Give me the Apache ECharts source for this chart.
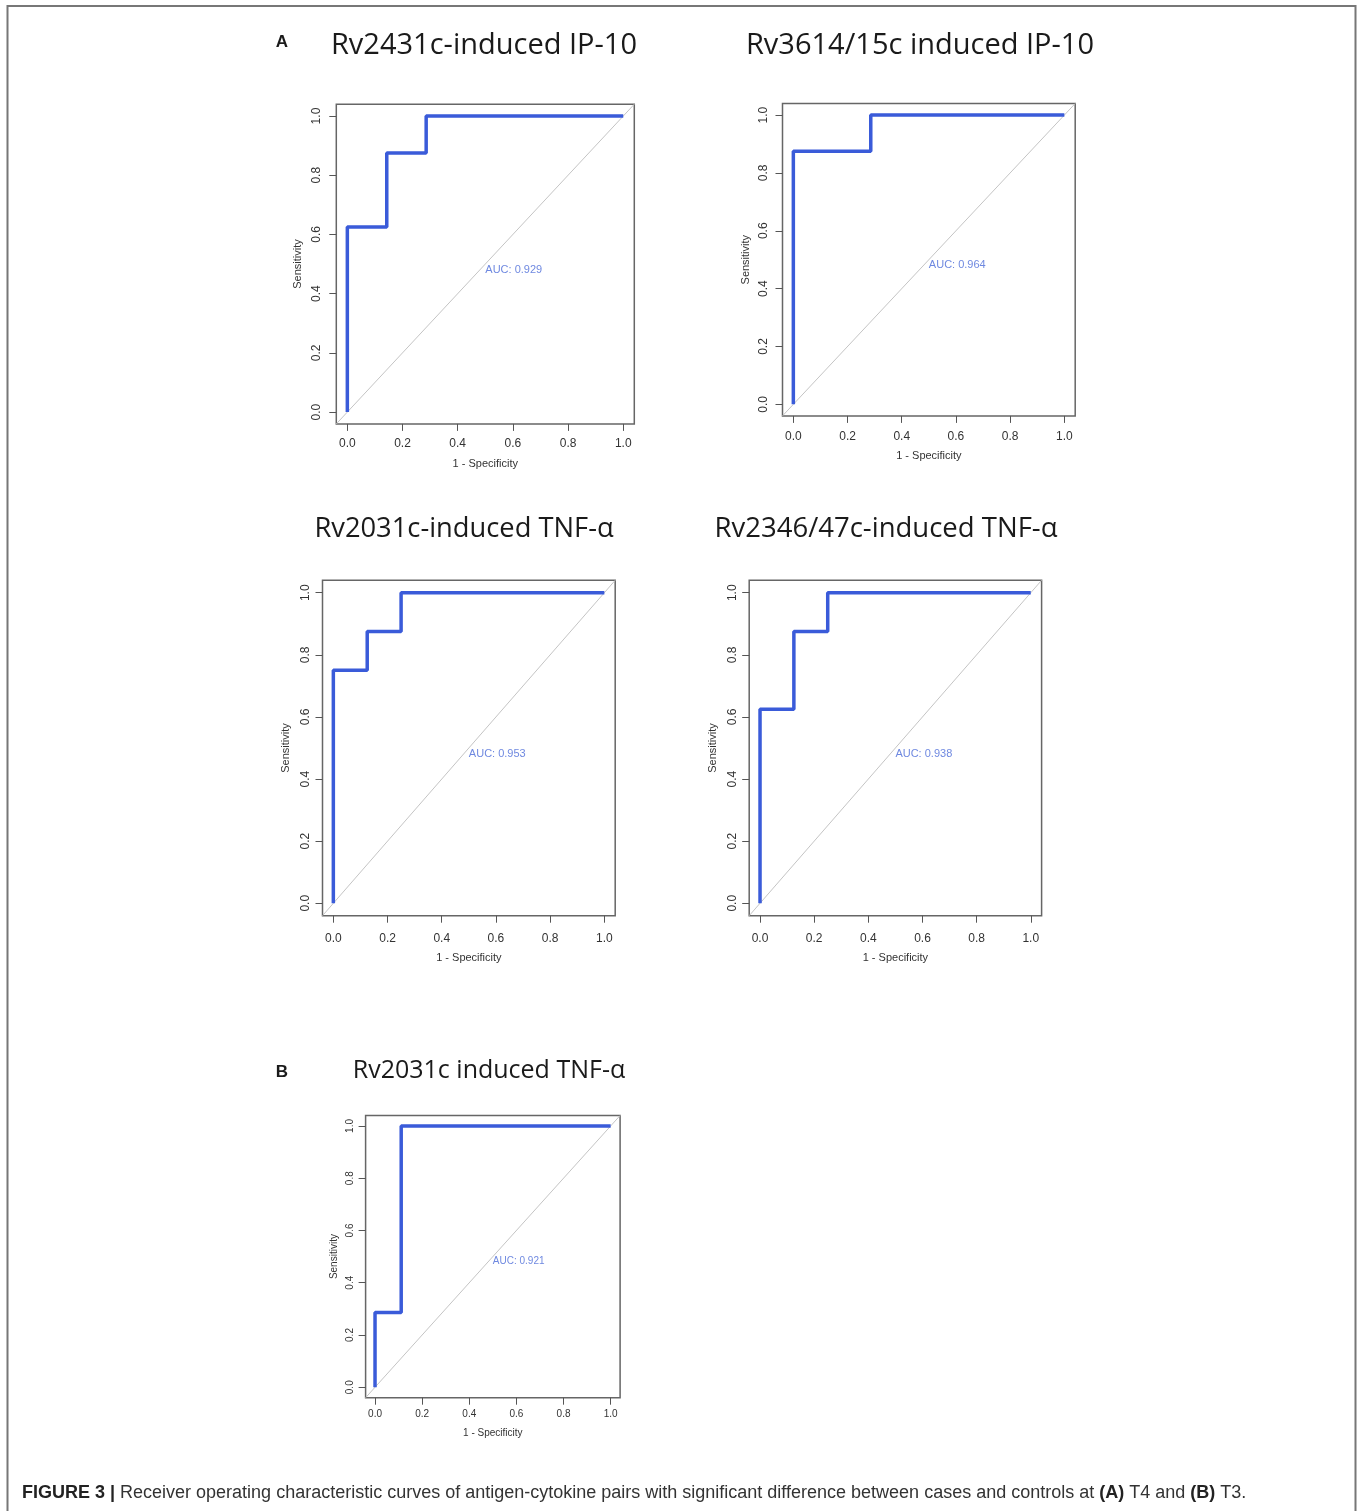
<!DOCTYPE html>
<html>
<head>
<meta charset="utf-8">
<script src="https://cdn.jsdelivr.net/npm/echarts@6/dist/echarts.min.js"></script>
<style>
html,body{margin:0;padding:0;background:#fff;}
#chart{width:1360px;height:1511px;}
</style>
</head>
<body>
<div id="chart"></div>
<script>
// ---- data ----
const panelTitles = ['Rv2431c-induced IP-10', 'Rv3614/15c induced IP-10', 'Rv2031c-induced TNF-\u03b1', 'Rv2346/47c-induced TNF-\u03b1', 'Rv2031c induced TNF-\u03b1'];
const tickValues = [0, 0.2, 0.4, 0.6, 0.8, 1.0];
const tickLabels = ['0.0', '0.2', '0.4', '0.6', '0.8', '1.0'];
const xAxisName = '1 - Specificity';
const yAxisName = 'Sensitivity';

const p1Fpr = [0, 0, 0.1429, 0.1429, 0.2857, 0.2857, 1];
const p1Tpr = [0, 0.625, 0.625, 0.875, 0.875, 1, 1];
const p2Fpr = [0, 0, 0.2857, 0.2857, 1];
const p2Tpr = [0, 0.875, 0.875, 1, 1];
const p3Fpr = [0, 0, 0.125, 0.125, 0.25, 0.25, 1];
const p3Tpr = [0, 0.75, 0.75, 0.875, 0.875, 1, 1];
const p4Fpr = [0, 0, 0.125, 0.125, 0.25, 0.25, 1];
const p4Tpr = [0, 0.625, 0.625, 0.875, 0.875, 1, 1];
const p5Fpr = [0, 0, 0.1111, 0.1111, 1];
const p5Tpr = [0, 0.2857, 0.2857, 1, 1];
const aucLabels = ['AUC: 0.929', 'AUC: 0.964', 'AUC: 0.953', 'AUC: 0.938', 'AUC: 0.921'];
const aucPos = [0.5, 0.5];
const diagonal = [-0.04, 1.04];

const captionBold = 'FIGURE 3 |';
const captionText = ' Receiver operating characteristic curves of antigen-cytokine pairs with significant difference between cases and controls at ';
const captionA = '(A)';
const captionMid = ' T4 and ';
const captionB = '(B)';
const captionEnd = ' T3.';

// ---- layout (positions & styles) ----
const layout = [
  {left:336.3, top:104.2, width:298, height:319.7, fs:12, afs:11, nfs:11, xm:14, ym:14, xg:35, yg:33, tx:484, ty:46, tfs:29},
  {left:782.5, top:103.5, width:292.7, height:312.4, fs:12, afs:11, nfs:11, xm:15, ym:13, xg:35, yg:31, tx:920, ty:46, tfs:29},
  {left:322.5, top:580.3, width:292.7, height:335.4, fs:12, afs:11, nfs:11, xm:17, ym:11, xg:37, yg:31, tx:464, ty:529, tfs:27.3},
  {left:749.2, top:580.3, width:292.4, height:335.4, fs:12, afs:11, nfs:11, xm:17, ym:11, xg:37, yg:31, tx:886, ty:529, tfs:27.5},
  {left:365.6, top:1115.5, width:254.5, height:282.2, fs:10, afs:10, nfs:10, xm:12, ym:10, xg:31, yg:26, tx:489, ty:1071, tfs:25}
];
const fprs = [p1Fpr, p2Fpr, p3Fpr, p4Fpr, p5Fpr];
const tprs = [p1Tpr, p2Tpr, p3Tpr, p4Tpr, p5Tpr];

const sans = '"Liberation Sans", Arial, Helvetica, sans-serif';
const blue = '#3a5bd9';

const grids = [], xAxes = [], yAxes = [], series = [], graphics = [];
layout.forEach((L, i) => {
  grids.push({left:L.left, top:L.top, width:L.width, height:L.height, show:true, borderColor:'#666', borderWidth:1.5, backgroundColor:'#fff'});
  const common = {
    type:'value', min:diagonal[0], max:diagonal[1], gridIndex:i,
    axisLine:{show:false, onZero:false},
    splitLine:{show:false},
    axisTick:{show:true, inside:false, length:7, customValues:tickValues, lineStyle:{color:'#555', width:1}},
    nameLocation:'middle',
    nameTextStyle:{fontFamily:sans, fontSize:L.nfs, color:'#333'}
  };
  xAxes.push(Object.assign({}, common, {
    position:'bottom', name:xAxisName, nameGap:L.xg,
    axisLabel:{customValues:tickValues, formatter:v=>tickLabels[tickValues.indexOf(Math.round(v*10)/10)], margin:L.xm, fontFamily:sans, fontSize:L.fs, color:'#333'}
  }));
  yAxes.push(Object.assign({}, common, {
    position:'left', name:yAxisName, nameGap:L.yg,
    axisLabel:{customValues:tickValues, rotate:90, formatter:v=>tickLabels[tickValues.indexOf(Math.round(v*10)/10)], margin:L.ym, fontFamily:sans, fontSize:L.fs, color:'#333'}
  }));
  series.push({
    type:'line', xAxisIndex:i, yAxisIndex:i, symbol:'none', silent:true, z:2,
    data:[[diagonal[0], diagonal[0]], [diagonal[1], diagonal[1]]],
    lineStyle:{color:'#c4c4c4', width:1}
  });
  series.push({
    type:'line', xAxisIndex:i, yAxisIndex:i, symbol:'none', silent:true, z:3,
    data:fprs[i].map((x, k) => [x, tprs[i][k]]),
    lineStyle:{color:blue, width:3.5}
  });
  series.push({
    type:'scatter', xAxisIndex:i, yAxisIndex:i, symbolSize:0, silent:true, z:4,
    data:[aucPos],
    label:{show:true, position:[0,0], align:'left', verticalAlign:'top', formatter:aucLabels[i], fontFamily:sans, fontSize:L.afs, color:'#4a6ad8'}
  });
  graphics.push({type:'text', x:L.tx, y:L.ty, style:{text:panelTitles[i], font:L.tfs + 'px "Open Sans", Lato, sans-serif', fill:'#1a1a1a', align:'center', verticalAlign:'middle'}});
});

graphics.push({type:'text', x:282, y:42, style:{text:'A', font:'bold 17px "Liberation Sans", Arial, sans-serif', fill:'#1a1a1a', align:'center', verticalAlign:'middle'}});
graphics.push({type:'text', x:282, y:1072, style:{text:'B', font:'bold 17px "Liberation Sans", Arial, sans-serif', fill:'#1a1a1a', align:'center', verticalAlign:'middle'}});
graphics.push({type:'rect', shape:{x:7.5, y:6, width:1348, height:1600}, style:{fill:'none', stroke:'#777', lineWidth:2}, silent:true});
graphics.push({type:'text', x:22, y:1493, style:{
  text:'{b|' + captionBold + '}{r|' + captionText + '}{b|' + captionA + '}{r|' + captionMid + '}{b|' + captionB + '}{r|' + captionEnd + '}',
  verticalAlign:'middle', align:'left',
  rich:{
    b:{fontFamily:'"Liberation Sans", Arial, sans-serif', fontWeight:'bold', fontSize:18, fill:'#222', color:'#222'},
    r:{fontFamily:'"Liberation Sans", Arial, sans-serif', fontSize:18, fill:'#333', color:'#333'}
  }
}});

const chart = echarts.init(document.getElementById('chart'), null, {renderer:'canvas'});
chart.setOption({
  animation:false,
  backgroundColor:'#fff',
  grid:grids, xAxis:xAxes, yAxis:yAxes, series:series, graphic:graphics
});
</script>
</body>
</html>
